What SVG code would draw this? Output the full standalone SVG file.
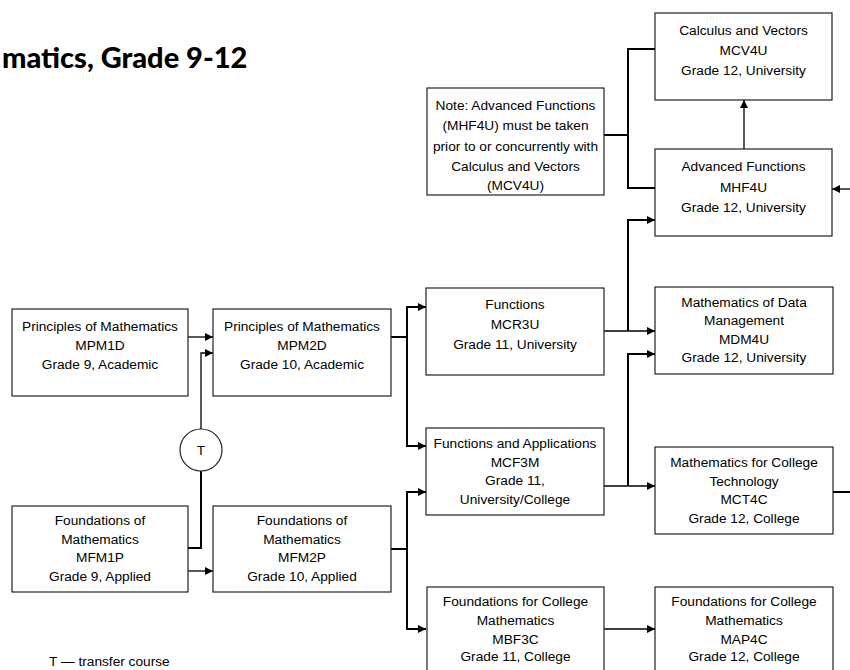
<svg xmlns="http://www.w3.org/2000/svg" width="850" height="670" viewBox="0 0 850 670">
<style>
.box{fill:#fff;stroke:#222;stroke-width:1.2}
.t{font-family:"Liberation Sans",Arial,sans-serif;font-size:13.7px;fill:#000;text-anchor:middle}
.c{fill:none;stroke:#000;stroke-width:1.3}
.k{fill:none;stroke:#000;stroke-width:2}
.title{font-family:Lato,"Open Sans",sans-serif;font-weight:900;font-size:29px;fill:#000}
</style>
<defs>
<marker id="a" viewBox="0 0 10 10" refX="10" refY="5" markerWidth="9" markerHeight="8" markerUnits="userSpaceOnUse" orient="auto">
<path d="M0,0 L10,5 L0,10 z" fill="#000"/>
</marker>
</defs>
<rect width="850" height="670" fill="#fff"/>
<text class="title" x="2" y="68">matics, Grade 9-12</text>

<g id="connectors">
<path class="c" d="M188,337 H213" marker-end="url(#a)"/>
<path class="c" d="M201,429 V353 H213" marker-end="url(#a)"/>
<path class="k" d="M188,548 H201 V471"/>
<path class="c" d="M188,571 H213" marker-end="url(#a)"/>
<path class="k" d="M391,337 H407"/>
<path class="k" d="M407,337 V307 H426" marker-end="url(#a)"/>
<path class="k" d="M407,337 V446 H426" marker-end="url(#a)"/>
<path class="k" d="M391,549 H407"/>
<path class="k" d="M407,549 V492 H426" marker-end="url(#a)"/>
<path class="k" d="M407,549 V629 H426" marker-end="url(#a)"/>
<path class="c" d="M604,331 H655" marker-end="url(#a)"/>
<path class="k" d="M628,331 V220 H655" marker-end="url(#a)"/>
<path class="c" d="M604,486 H655" marker-end="url(#a)"/>
<path class="k" d="M628,486 V354 H655" marker-end="url(#a)"/>
<path class="c" d="M604,629 H655" marker-end="url(#a)"/>
<path class="c" d="M744,149 V100" marker-end="url(#a)"/>
<path class="k" d="M604,135 H628"/>
<path class="k" d="M655,49 H628 V188 H655"/>
<path class="c" d="M850,189 H832" marker-end="url(#a)"/>
<path class="k" d="M833,492 H850"/>
</g>

<g id="mpm1d">
<rect class="box" x="12" y="309" width="176" height="87"/>
<text class="t" x="100" y="331">Principles of Mathematics</text>
<text class="t" x="100" y="350">MPM1D</text>
<text class="t" x="100" y="369">Grade 9, Academic</text>
</g>
<g id="mpm2d">
<rect class="box" x="213" y="309" width="178" height="87"/>
<text class="t" x="302" y="331">Principles of Mathematics</text>
<text class="t" x="302" y="350">MPM2D</text>
<text class="t" x="302" y="369">Grade 10, Academic</text>
</g>
<g id="transfer">
<circle cx="201" cy="450" r="21" fill="#fff" stroke="#222" stroke-width="1.2"/>
<text class="t" x="201" y="455">T</text>
</g>
<g id="mfm1p">
<rect class="box" x="12" y="506" width="176" height="86"/>
<text class="t" x="100" y="525">Foundations of</text>
<text class="t" x="100" y="544">Mathematics</text>
<text class="t" x="100" y="562">MFM1P</text>
<text class="t" x="100" y="581">Grade 9, Applied</text>
</g>
<g id="mfm2p">
<rect class="box" x="213" y="506" width="178" height="86"/>
<text class="t" x="302" y="525">Foundations of</text>
<text class="t" x="302" y="544">Mathematics</text>
<text class="t" x="302" y="562">MFM2P</text>
<text class="t" x="302" y="581">Grade 10, Applied</text>
</g>
<g id="mcr3u">
<rect class="box" x="426" y="288" width="178" height="87"/>
<text class="t" x="515" y="308.5">Functions</text>
<text class="t" x="515" y="329">MCR3U</text>
<text class="t" x="515" y="349">Grade 11, University</text>
</g>
<g id="mcf3m">
<rect class="box" x="426" y="428" width="178" height="87"/>
<text class="t" x="515" y="448">Functions and Applications</text>
<text class="t" x="515" y="466.5">MCF3M</text>
<text class="t" x="515" y="485">Grade 11,</text>
<text class="t" x="515" y="503.5">University/College</text>
</g>
<g id="mbf3c">
<rect class="box" x="427" y="587" width="177" height="95"/>
<text class="t" x="515.5" y="606">Foundations for College</text>
<text class="t" x="515.5" y="625">Mathematics</text>
<text class="t" x="515.5" y="643.5">MBF3C</text>
<text class="t" x="515.5" y="661">Grade 11, College</text>
</g>
<g id="note">
<rect class="box" x="427" y="88" width="177" height="107"/>
<text class="t" x="515.5" y="110">Note: Advanced Functions</text>
<text class="t" x="515.5" y="130">(MHF4U) must be taken</text>
<text class="t" x="515.5" y="151">prior to or concurrently with</text>
<text class="t" x="515.5" y="171">Calculus and Vectors</text>
<text class="t" x="515.5" y="190">(MCV4U)</text>
</g>
<g id="mcv4u">
<rect class="box" x="655" y="13" width="177" height="87"/>
<text class="t" x="743.5" y="34.5">Calculus and Vectors</text>
<text class="t" x="743.5" y="55">MCV4U</text>
<text class="t" x="743.5" y="75">Grade 12, University</text>
</g>
<g id="mhf4u">
<rect class="box" x="655" y="149" width="177" height="87"/>
<text class="t" x="743.5" y="171">Advanced Functions</text>
<text class="t" x="743.5" y="192">MHF4U</text>
<text class="t" x="743.5" y="212">Grade 12, University</text>
</g>
<g id="mdm4u">
<rect class="box" x="655" y="287" width="178" height="87"/>
<text class="t" x="744" y="307">Mathematics of Data</text>
<text class="t" x="744" y="325">Management</text>
<text class="t" x="744" y="344">MDM4U</text>
<text class="t" x="744" y="362">Grade 12, University</text>
</g>
<g id="mct4c">
<rect class="box" x="655" y="447" width="178" height="87"/>
<text class="t" x="744" y="467">Mathematics for College</text>
<text class="t" x="744" y="485.5">Technology</text>
<text class="t" x="744" y="504">MCT4C</text>
<text class="t" x="744" y="522.5">Grade 12, College</text>
</g>
<g id="map4c">
<rect class="box" x="655" y="587" width="178" height="95"/>
<text class="t" x="744" y="606">Foundations for College</text>
<text class="t" x="744" y="625">Mathematics</text>
<text class="t" x="744" y="643.5">MAP4C</text>
<text class="t" x="744" y="661">Grade 12, College</text>
</g>
<text class="t" x="49" y="666" style="text-anchor:start">T — transfer course</text>
</svg>
